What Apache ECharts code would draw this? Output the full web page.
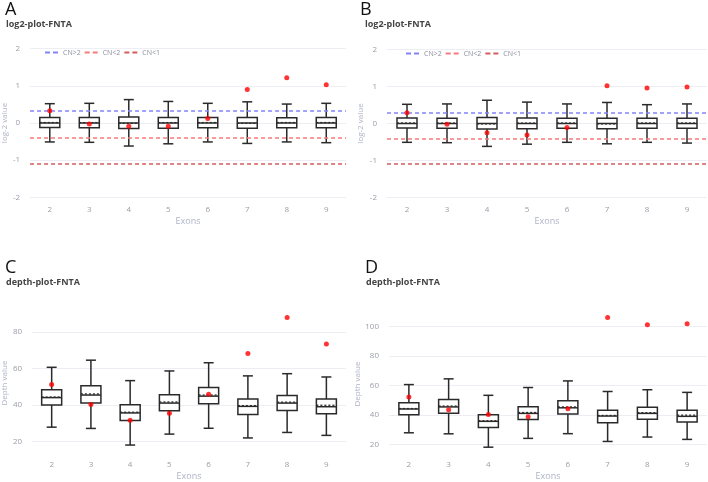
<!DOCTYPE html>
<html>
<head>
<meta charset="utf-8">
<script src="https://cdn.jsdelivr.net/npm/echarts@6/dist/echarts.min.js"></script>
<style>
  html, body { margin: 0; padding: 0; background: #fff; }
  #chart { width: 708px; height: 482px; }
</style>
</head>
<body>
<div id="chart"></div>
<script>
const exons = ['2', '3', '4', '5', '6', '7', '8', '9'];

// [lower whisker, q1, median, q3, upper whisker, mean]
const log2Box = [
  [-0.51, -0.12, 0, 0.15, 0.52, 0.012],
  [-0.52, -0.13, 0, 0.145, 0.53, 0.01],
  [-0.62, -0.15, 0, 0.16, 0.63, -0.01],
  [-0.56, -0.14, 0, 0.15, 0.58, 0.01],
  [-0.51, -0.13, 0, 0.145, 0.53, 0.012],
  [-0.55, -0.14, 0, 0.145, 0.57, -0.01],
  [-0.51, -0.13, 0, 0.14, 0.51, 0.012],
  [-0.53, -0.13, 0, 0.145, 0.53, 0.012]
];
const depthBox = [
  [27.8, 40.0, 44.0, 48.3, 60.6, 44.3],
  [27.1, 41.1, 45.4, 50.5, 64.5, 46.0],
  [18.0, 31.4, 35.6, 40.1, 53.3, 36.0],
  [24.0, 36.8, 41.0, 45.6, 58.6, 41.6],
  [27.2, 40.6, 44.8, 49.6, 63.1, 45.4],
  [21.9, 34.7, 39.2, 43.2, 55.9, 39.6],
  [24.9, 37.0, 41.0, 45.1, 57.1, 41.5],
  [23.3, 35.2, 39.0, 43.2, 55.3, 39.8]
];

const log2DotsA = [0.33, -0.03, -0.09, -0.09, 0.12, 0.90, 1.22, 1.03];
const log2DotsB = [0.29, -0.02, -0.25, -0.31, -0.11, 1.02, 0.96, 0.99];
const depthDotsC = [51.2, 40.2, 31.6, 35.4, 45.9, 68.2, 87.9, 73.4];
const depthDotsD = [52.2, 43.4, 40.3, 38.7, 44.1, 106.3, 101.4, 102.0];

const cnNames = ['CN>2', 'CN<2', 'CN<1'];
const cnColors = ['#8484fa', '#f77a7a', '#d25e5e'];
const cnLinesA = [0.32, -0.39, -1.09];
const cnLinesB = [0.30, -0.40, -1.10];

const log2Ticks = [-2, -1, 0, 1, 2];
const depthTicksC = [20, 40, 60, 80];
const depthTicksD = [20, 40, 60, 80, 100];

const chart = echarts.init(document.getElementById('chart'));

const labelGrey = '#9a9daa';
const nameGrey = '#aeb3c6';

function renderBox(params, api) {
  const x = api.value(0);
  const p = [1, 2, 3, 4, 5, 6].map(i => api.coord([x, api.value(i)]));
  const cx = p[0][0];
  const half = 10, cap = 5;
  const st = { stroke: '#2a2a2a', lineWidth: 1.5, fill: null };
  return {
    type: 'group',
    children: [
      { type: 'line', shape: { x1: cx, y1: p[0][1], x2: cx, y2: p[1][1] }, style: st },
      { type: 'line', shape: { x1: cx, y1: p[3][1], x2: cx, y2: p[4][1] }, style: st },
      { type: 'line', shape: { x1: cx - cap, y1: p[0][1], x2: cx + cap, y2: p[0][1] }, style: st },
      { type: 'line', shape: { x1: cx - cap, y1: p[4][1], x2: cx + cap, y2: p[4][1] }, style: st },
      { type: 'rect', shape: { x: cx - half, y: p[3][1], width: half * 2, height: p[1][1] - p[3][1] },
        style: { stroke: '#2a2a2a', lineWidth: 1.5, fill: '#fff' } },
      { type: 'line', shape: { x1: cx - half, y1: p[2][1], x2: cx + half, y2: p[2][1] }, style: st },
      { type: 'line', shape: { x1: cx - half, y1: p[5][1], x2: cx + half, y2: p[5][1] },
        style: { stroke: '#2a2a2a', lineWidth: 1.3, lineDash: [2, 2], fill: null } }
    ]
  };
}

const panels = [
  { grid: { left: 26, top: 45, width: 320, height: 156 }, min: -2.1, max: 2.1, ticks: log2Ticks,
    box: log2Box, dots: log2DotsA, cn: cnLinesA, yName: 'log-2 value', nameGap: 21 },
  { grid: { left: 387, top: 46, width: 320, height: 155 }, min: -2.1, max: 2.1, ticks: log2Ticks,
    box: log2Box, dots: log2DotsB, cn: cnLinesB, yName: 'log-2 value', nameGap: 22 },
  { grid: { left: 26, top: 310, width: 320, height: 149 }, min: 12, max: 92, ticks: depthTicksC,
    box: depthBox, dots: depthDotsC, cn: null, yName: 'Depth value', nameGap: 21 },
  { grid: { left: 389, top: 312, width: 318, height: 145 }, min: 12, max: 110, ticks: depthTicksD,
    box: depthBox, dots: depthDotsD, cn: null, yName: 'Depth value', nameGap: 24 }
];

const grids = [], xAxes = [], yAxes = [], series = [];
panels.forEach((p, k) => {
  grids.push(p.grid);
  xAxes.push({
    type: 'category', gridIndex: k, data: exons,
    axisLine: { show: false }, axisTick: { show: false },
    axisLabel: { color: labelGrey, fontSize: 8, margin: 5, fontFamily: 'Open Sans' },
    name: 'Exons', nameLocation: 'middle', nameGap: 16,
    nameTextStyle: { color: nameGrey, fontSize: 9, fontFamily: 'Open Sans' }
  });
  yAxes.push({
    type: 'value', gridIndex: k, min: p.min, max: p.max,
    axisLine: { show: false },
    axisTick: { show: false, customValues: p.ticks },
    axisLabel: { color: labelGrey, fontSize: 8, margin: 10, customValues: p.ticks, fontFamily: 'Open Sans' },
    splitLine: { show: true, lineStyle: { color: '#eceef3', width: 1 } },
    name: p.yName, nameLocation: 'middle', nameGap: p.nameGap,
    nameTextStyle: { color: nameGrey, fontSize: 8, fontFamily: 'Open Sans' }
  });
  if (p.cn) {
    p.cn.forEach((v, j) => {
      series.push({
        name: cnNames[j], type: 'line', xAxisIndex: k, yAxisIndex: k, data: [],
        symbol: 'none', color: cnColors[j],
        lineStyle: { color: cnColors[j], type: [4, 3], width: 1.5 },
        markLine: {
          silent: true, symbol: 'none', label: { show: false },
          lineStyle: { color: cnColors[j], type: [4, 3], width: 1.5 },
          data: [{ yAxis: v }]
        },
        z: 1
      });
    });
  }
  series.push({
    type: 'custom', xAxisIndex: k, yAxisIndex: k,
    renderItem: renderBox,
    encode: { x: 0, y: [1, 2, 3, 4, 5, 6] },
    data: p.box.map((b, i) => [i].concat(b)),
    z: 3
  });
  series.push({
    type: 'scatter', xAxisIndex: k, yAxisIndex: k,
    data: p.dots.map((v, i) => [i, v]),
    symbolSize: 5, itemStyle: { color: '#ff0000' }, z: 5
  });
});

const letterStyle = { fontSize: 18, fontWeight: 'normal', color: '#111', fontFamily: 'Open Sans' };
const subStyle = { fontSize: 9, fontWeight: 'bold', color: '#444', fontFamily: 'Open Sans' };

const legendBase = {
  data: cnNames.map(n => ({ name: n, icon: 'path://M0,0h5v2h-5z M8,0h5v2h-5z' })),
  itemWidth: 13, itemHeight: 2, itemGap: 4,
  textStyle: { color: '#8b8e9c', fontSize: 7, fontFamily: 'Open Sans' }, selectedMode: false
};

chart.setOption({
  animation: false,
  title: [
    { text: 'A', left: 0, top: -4, textStyle: letterStyle },
    { text: 'log2-plot-FNTA', left: 1, top: 15, textStyle: subStyle },
    { text: 'B', left: 355, top: -4, textStyle: letterStyle },
    { text: 'log2-plot-FNTA', left: 360, top: 15, textStyle: subStyle },
    { text: 'C', left: 0, top: 254, textStyle: letterStyle },
    { text: 'depth-plot-FNTA', left: 1, top: 273, textStyle: subStyle },
    { text: 'D', left: 360, top: 254, textStyle: letterStyle },
    { text: 'depth-plot-FNTA', left: 361, top: 273, textStyle: subStyle }
  ],
  legend: [
    Object.assign({ left: 40, top: 44 }, legendBase),
    Object.assign({ left: 401, top: 45 }, legendBase)
  ],
  grid: grids,
  xAxis: xAxes,
  yAxis: yAxes,
  series: series
});
</script>
</body>
</html>
